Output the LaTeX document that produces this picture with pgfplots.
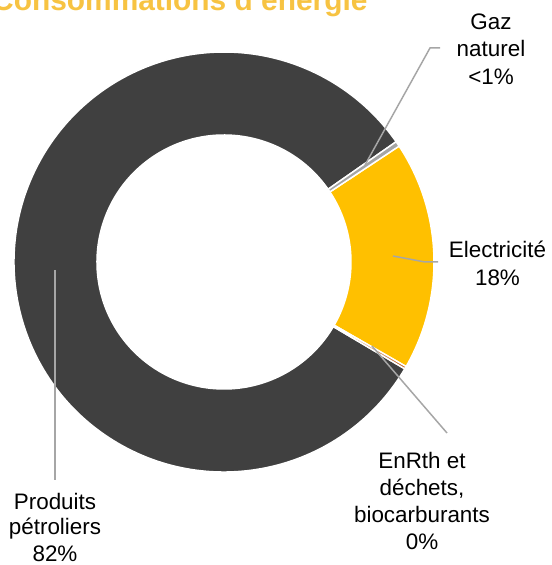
\documentclass[border=0pt]{standalone}
\usepackage{pgfplots}
\pgfplotsset{compat=1.18}
\usepackage{pgfplotstable}
\usepackage{fontspec}
\setmainfont{Liberation Sans}

\definecolor{petro}{HTML}{404040}
\definecolor{elec}{HTML}{FFC000}
\definecolor{gaz}{HTML}{A5A5A5}
\definecolor{enr}{HTML}{C0692B}
\definecolor{leader}{HTML}{A6A6A6}
\definecolor{titlec}{HTML}{F7C342}

\tikzset{lab/.style={anchor=base, inner sep=0pt, font=\fontsize{22.5}{27}\selectfont}}

% parts in percent, clockwise from the gas slice
\pgfplotstableread{
part share
gaz 0.4
elec 17.6
enr 0.2
petro 81.8
}\energie

\pgfplotstablegetelem{0}{share}\of\energie\let\sGaz\pgfplotsretval
\pgfplotstablegetelem{1}{share}\of\energie\let\sElec\pgfplotsretval
\pgfplotstablegetelem{2}{share}\of\energie\let\sEnr\pgfplotsretval
\pgfplotstablegetelem{3}{share}\of\energie\let\sPetro\pgfplotsretval
\pgfmathsetmacro\aA{34.94}
\pgfmathsetmacro\aB{\aA-3.6*\sGaz}
\pgfmathsetmacro\aC{\aB-3.6*\sElec}
\pgfmathsetmacro\aD{\aC-3.6*\sEnr}
\pgfmathsetmacro\aE{\aD-3.6*\sPetro}

% ring slice from angle #1 to #2 (clockwise), centre (224,303), radii 210/127
\newcommand\ring[3]{%
  \fill[#3, draw=white, line width=1.5bp]
    (axis cs:{224+210*cos(#1)},{303+210*sin(#1)})
    arc[start angle=#1, end angle=#2, radius=210bp]
    -- (axis cs:{224+127*cos(#2)},{303+127*sin(#2)})
    arc[start angle=#2, end angle=#1, radius=127bp] -- cycle;}

\begin{document}
\begin{tikzpicture}
\path[use as bounding box, clip] (0,0) rectangle (552bp,565bp);
\begin{axis}[
  x=1bp, y=1bp,
  xmin=0, xmax=552, ymin=0, ymax=565,
  hide axis, clip=false,
  at={(0,0)}, anchor=south west,
]
\ring{\aD}{\aE}{petro}
\ring{\aB}{\aC}{elec}
\ring{\aA}{\aB}{gaz}
\ring{\aC}{\aD}{enr}

% leader lines
\draw[leader, line width=1.5bp] (axis cs:365,400) -- (axis cs:430,517) -- (axis cs:440,517);
\draw[leader, line width=1.5bp] (axis cs:393,309) -- (axis cs:425,303) -- (axis cs:438,303);
\draw[leader, line width=1.5bp] (axis cs:372,219) -- (axis cs:447,132);
\draw[leader, line width=1.5bp] (axis cs:55,295) -- (axis cs:55,85);

% labels
\node[lab] at (axis cs:491,535) {Gaz};
\node[lab] at (axis cs:491,508) {naturel};
\node[lab] at (axis cs:491,480) {<1\%};
\node[lab] at (axis cs:497.5,308) {Electricité};
\node[lab] at (axis cs:497.5,280) {18\%};
\node[lab] at (axis cs:422,97) {EnRth et};
\node[lab] at (axis cs:422,70) {déchets,};
\node[lab] at (axis cs:422,43) {biocarburants};
\node[lab] at (axis cs:422,16) {0\%};
\node[lab] at (axis cs:55,56) {Produits};
\node[lab] at (axis cs:55,31) {pétroliers};
\node[lab] at (axis cs:55,4) {82\%};

% title, cut at the top edge as in the source image
\node[anchor=base west, inner sep=0pt, text=titlec,
  font=\bfseries\fontsize{30}{35}\selectfont] at (axis cs:-8,554) {Consommations d'énergie};
\end{axis}
\end{tikzpicture}
\end{document}
